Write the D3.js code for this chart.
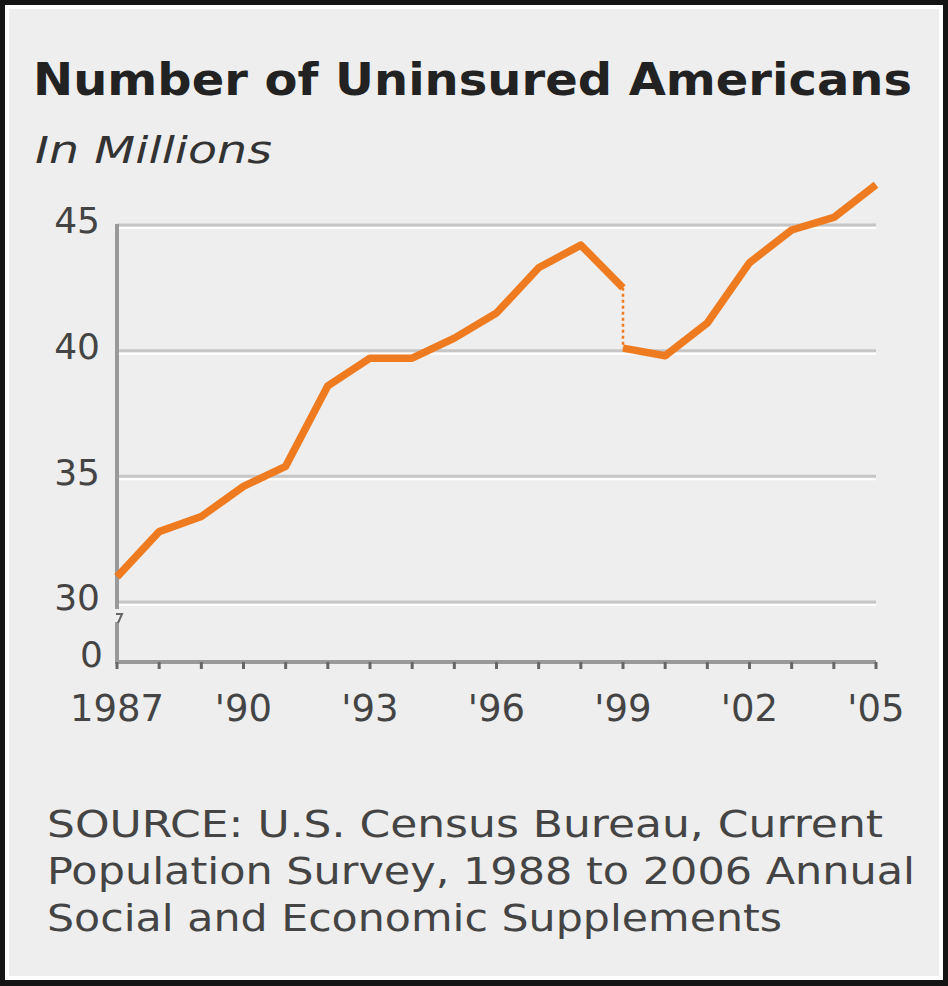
<!DOCTYPE html>
<html>
<head>
<meta charset="utf-8">
<script src="https://cdn.jsdelivr.net/npm/d3@7"></script>
<style>
  html, body { margin: 0; padding: 0; background: #fff; }
  text { font-family: "DejaVu Sans", Verdana, sans-serif; }
</style>
</head>
<body>
<svg id="chart"></svg>
<script>
// Data (millions of uninsured people)
const years = d3.range(1987, 2006);
const oldMethod = [31.0, 32.8, 33.4, 34.6, 35.4, 38.6, 39.7, 39.7, 40.5, 41.5, 43.3, 44.2, 42.5];   // 1987-1999
const newMethod = [40.1, 39.8, 41.1, 43.5, 44.8, 45.3, 46.6];                                      // 1999-2005
const yTicks = [30, 35, 40, 45];
const xTickLabels = ["1987", "'90", "'93", "'96", "'99", "'02", "'05"];
const xTickYears = [1987, 1990, 1993, 1996, 1999, 2002, 2005];
const sourceLines = [
  "SOURCE: U.S. Census Bureau, Current",
  "Population Survey, 1988 to 2006 Annual",
  "Social and Economic Supplements"
];

const W = 948, H = 986;
const svg = d3.select("#chart").attr("width", W).attr("height", H);

// Frame: dark border, thin white line, light gray panel
svg.append("rect").attr("width", W).attr("height", H).attr("fill", "#141414");
svg.append("rect").attr("x", 5).attr("y", 5).attr("width", W - 10).attr("height", H - 11).attr("fill", "#ffffff");
svg.append("rect").attr("x", 9).attr("y", 9).attr("width", W - 18).attr("height", H - 19).attr("fill", "#eeeeee");

// Title and subtitle
svg.append("text")
    .attr("x", 33).attr("y", 95)
    .attr("font-size", 44).attr("font-weight", "bold")
    .attr("fill", "#222")
    .attr("textLength", 879).attr("lengthAdjust", "spacingAndGlyphs")
    .text("Number of Uninsured Americans");

svg.append("text")
    .attr("x", 35).attr("y", 163)
    .attr("font-size", 38).attr("font-style", "italic")
    .attr("fill", "#333")
    .attr("textLength", 237).attr("lengthAdjust", "spacingAndGlyphs")
    .text("In Millions");

// Scales
const x = d3.scaleLinear().domain([1987, 2005]).range([117, 876]);
const y = d3.scaleLinear().domain([30, 45]).range([602, 225]);
const baseY = 662;

// Gridlines (gray groove with a white highlight underneath)
const grid = svg.append("g");
yTicks.forEach(v => {
    grid.append("line")
        .attr("x1", x(1987)).attr("x2", x(2005))
        .attr("y1", y(v)).attr("y2", y(v))
        .attr("stroke", "#c6c6c6").attr("stroke-width", 3);
    grid.append("line")
        .attr("x1", x(1987)).attr("x2", x(2005))
        .attr("y1", y(v) + 3).attr("y2", y(v) + 3)
        .attr("stroke", "#ffffff").attr("stroke-width", 2);
});

// Y axis labels
const yAxis = svg.append("g")
    .attr("transform", `translate(${x(1987) - 14},0)`)
    .call(d3.axisLeft(y).tickValues(yTicks).tickSize(0).tickFormat(d3.format("d")));
yAxis.select(".domain").remove();
yAxis.selectAll("text")
    .attr("font-size", 36)
    .attr("font-family", "DejaVu Sans, Verdana, sans-serif")
    .attr("fill", "#444")
    .attr("dy", "0.22em");

svg.append("text")
    .attr("x", x(1987) - 14).attr("y", baseY)
    .attr("dy", "0.15em")
    .attr("text-anchor", "end")
    .attr("font-size", 36).attr("fill", "#444")
    .text("0");

// Vertical axis with a break between 0 and 30
const axisColor = "#999999";
svg.append("line")
    .attr("x1", x(1987)).attr("x2", x(1987))
    .attr("y1", y(45) - 1).attr("y2", 609)
    .attr("stroke", axisColor).attr("stroke-width", 4);
svg.append("line")
    .attr("x1", x(1987)).attr("x2", x(1987))
    .attr("y1", 622).attr("y2", baseY + 2)
    .attr("stroke", axisColor).attr("stroke-width", 4);
svg.append("path")
    .attr("d", `M${x(1987) - 1},${614} L${x(1987) + 5},${614} L${x(1987) + 1},${623}`)
    .attr("fill", "none").attr("stroke", "#666").attr("stroke-width", 2);

// Horizontal axis with small ticks for each year
svg.append("line")
    .attr("x1", x(1987)).attr("x2", x(2005))
    .attr("y1", baseY).attr("y2", baseY)
    .attr("stroke", axisColor).attr("stroke-width", 4);
svg.append("g").selectAll("line")
    .data(years)
    .enter().append("line")
    .attr("x1", d => x(d)).attr("x2", d => x(d))
    .attr("y1", baseY).attr("y2", baseY + 7)
    .attr("stroke", "#666").attr("stroke-width", 3);

svg.append("g").selectAll("text")
    .data(xTickYears)
    .enter().append("text")
    .attr("x", d => x(d))
    .attr("y", 721)
    .attr("text-anchor", "middle")
    .attr("font-size", 37).attr("fill", "#444")
    .text((d, i) => xTickLabels[i]);

// Data line
const orange = "#ef7b20";
const line = d3.line().x(d => x(d[0])).y(d => y(d[1]));
const oldPts = oldMethod.map((v, i) => [1987 + i, v]);
const newPts = newMethod.map((v, i) => [1999 + i, v]);

svg.append("path")
    .attr("d", `M${x(1999)},${y(oldMethod[oldMethod.length - 1])} L${x(1999)},${y(newMethod[0])}`)
    .attr("stroke", orange).attr("stroke-width", 2.5)
    .attr("stroke-dasharray", "3,3").attr("fill", "none");

[oldPts, newPts].forEach(pts => {
    svg.append("path")
        .datum(pts)
        .attr("d", line)
        .attr("fill", "none")
        .attr("stroke", orange)
        .attr("stroke-width", 7.5)
        .attr("stroke-linejoin", "round")
        .attr("stroke-linecap", "butt");
});

// Source note
const lineWidths = [836, 868, 735];
svg.append("g").selectAll("text")
    .data(sourceLines)
    .enter().append("text")
    .attr("x", 47)
    .attr("y", (d, i) => 837 + i * 47)
    .attr("font-size", 38).attr("fill", "#444")
    .attr("textLength", (d, i) => lineWidths[i])
    .attr("lengthAdjust", "spacingAndGlyphs")
    .text(d => d);
</script>
</body>
</html>
